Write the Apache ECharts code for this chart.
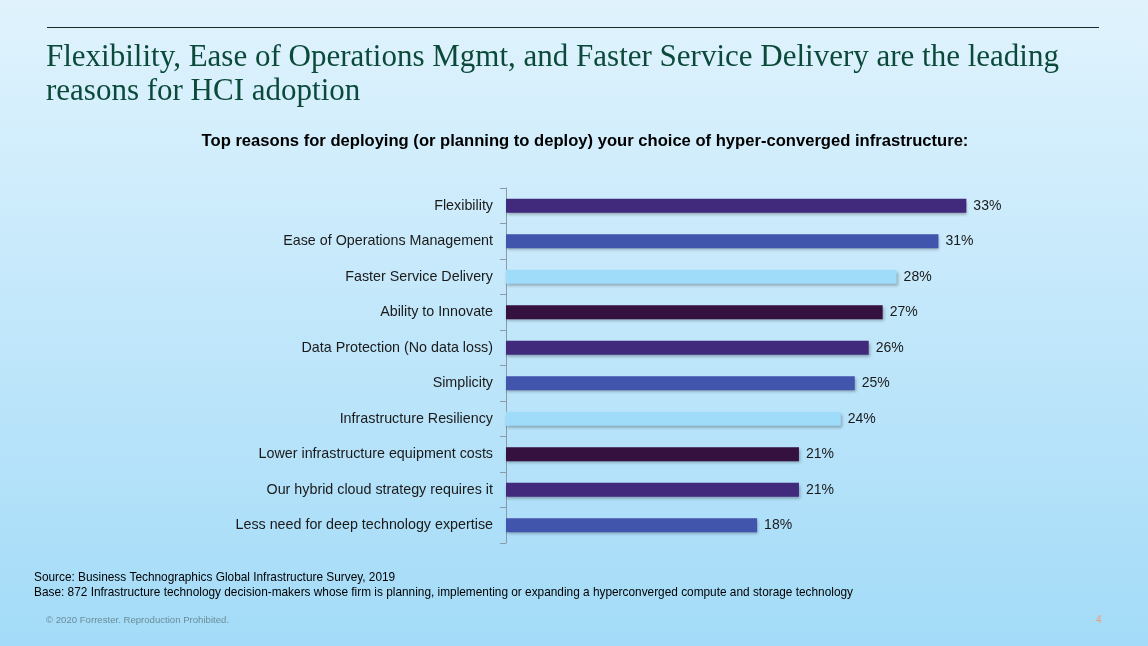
<!DOCTYPE html>
<html>
<head>
<meta charset="utf-8">
<script src="https://cdn.jsdelivr.net/npm/echarts@6/dist/echarts.min.js"></script>
<style>
html,body{margin:0;padding:0;}
#chart{width:1148px;height:646px;}
</style>
</head>
<body>
<div id="chart"></div>
<script>
const categories = [
  "Flexibility",
  "Ease of Operations Management",
  "Faster Service Delivery",
  "Ability to Innovate",
  "Data Protection (No data loss)",
  "Simplicity",
  "Infrastructure Resiliency",
  "Lower infrastructure equipment costs",
  "Our hybrid cloud strategy requires it",
  "Less need for deep technology expertise"
];
const values = [33, 31, 28, 27, 26, 25, 24, 21, 21, 18];
const palette = ["#41297c", "#4155ad", "#9fdcfa", "#35113f"];

const chart = echarts.init(document.getElementById('chart'));
chart.setOption({
  backgroundColor: {
    type: 'linear', x: 0, y: 0, x2: 0, y2: 1,
    colorStops: [{offset: 0, color: '#e0f3fd'}, {offset: 1, color: '#a3dbf8'}]
  },
  animation: false,
  title: [
    {
      text: 'Flexibility, Ease of Operations Mgmt, and Faster Service Delivery are the leading\nreasons for HCI adoption',
      left: 46, top: 41, padding: 0,
      textStyle: {fontFamily: 'Liberation Serif', fontWeight: 'normal', fontSize: 31, lineHeight: 34, color: '#0b4a3a'}
    },
    {
      text: 'Top reasons for deploying (or planning to deploy) your choice of hyper-converged infrastructure:',
      left: 585, textAlign: 'center', top: 133, padding: 0,
      textStyle: {fontFamily: 'Liberation Sans', fontWeight: 'bold', fontSize: 16.6, color: '#000'}
    },
    {
      text: 'Source: Business Technographics Global Infrastructure Survey, 2019\nBase: 872 Infrastructure technology decision-makers whose firm is planning, implementing or expanding a hyperconverged compute and storage technology',
      left: 34, top: 570, padding: 0,
      textStyle: {fontFamily: 'Liberation Sans', fontWeight: 'normal', fontSize: 11.85, lineHeight: 15, color: '#000'}
    },
    {
      text: '© 2020 Forrester. Reproduction Prohibited.',
      left: 46, top: 615, padding: 0,
      textStyle: {fontFamily: 'Liberation Sans', fontWeight: 'normal', fontSize: 9.6, color: '#6a8e99'}
    },
    {
      text: '4',
      left: 1096, top: 615, padding: 0,
      textStyle: {fontFamily: 'Liberation Sans', fontWeight: 'normal', fontSize: 10, color: '#e8a27a'}
    }
  ],
  graphic: [
    {type: 'line', shape: {x1: 47, y1: 27.5, x2: 1099, y2: 27.5}, style: {stroke: '#1a2a2a', lineWidth: 1}}
  ],
  grid: {left: 506, right: 84, top: 188, bottom: 103},
  xAxis: {type: 'value', min: 0, max: 40, show: false},
  yAxis: {
    type: 'category', data: categories, inverse: true,
    axisLine: {lineStyle: {color: '#8a9aa6'}},
    axisTick: {show: true, length: 6, lineStyle: {color: '#8a9aa6'}},
    axisLabel: {fontFamily: 'Liberation Sans', fontSize: 14.3, color: '#1a1a1a', margin: 13}
  },
  series: [{
    type: 'bar',
    barWidth: 14,
    data: values.map((v, i) => ({value: v, itemStyle: {color: palette[i % 4]}})),
    itemStyle: {shadowColor: 'rgba(0,0,0,0.3)', shadowBlur: 3, shadowOffsetY: 2, shadowOffsetX: 1},
    label: {show: true, position: 'right', distance: 7, formatter: '{c}%', fontFamily: 'Liberation Sans', fontSize: 14, color: '#1a1a1a'}
  }]
});
</script>
</body>
</html>
